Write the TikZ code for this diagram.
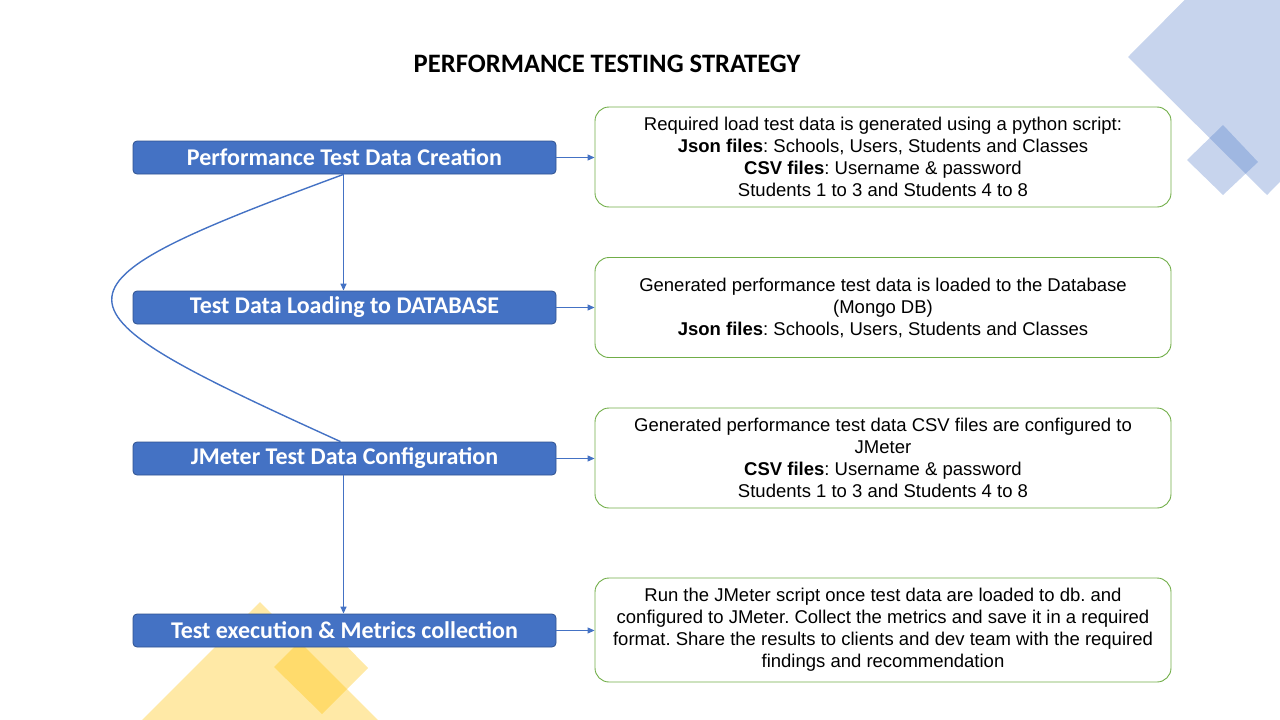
\documentclass[tikz,border=0pt]{standalone}
\usepackage{fontspec}
\setmainfont{Liberation Sans}
\newfontfamily\calibri{Carlito}
\usetikzlibrary{arrows.meta}
\frenchspacing

\definecolor{officeblue}{HTML}{4472C4}
\definecolor{darkblue}{HTML}{2F528F}
\definecolor{officegreen}{HTML}{70AD47}
\definecolor{gold}{HTML}{FFC000}

\tikzset{
  stage/.style={draw=darkblue,line width=.8pt,fill=officeblue,rounded corners=4pt,
    minimum width=423pt,minimum height=33pt,inner sep=0pt,text=white,
    font=\calibri\bfseries\fontsize{24}{28}\selectfont},
  note/.style={draw=officegreen,line width=.9pt,rounded corners=14pt,minimum width=576pt,
    minimum height=100pt,align=center,inner sep=0pt,
    font=\fontsize{18.5}{22}\selectfont},
  link/.style={officeblue,line width=1.4pt},
  tip/.style={-{Triangle[length=7pt,width=6pt]}}
}

\begin{document}
\begin{tikzpicture}[x=1pt,y=-1pt]
  \useasboundingbox (0,0) rectangle (1280,720);
  % corner shapes
  \fill[officeblue,opacity=.3]
    (1128,57) -- (1266,-82) -- (1405,56) -- (1267,195) -- cycle;
  \fill[officeblue,opacity=.3]
    (1187,160) -- (1223,125) -- (1258,162) -- (1223,195) -- cycle;
  \fill[gold,opacity=.35]
    (260,602) -- (378,720) -- (142,720) -- cycle;
  \fill[gold,opacity=.35]
    (274,667) -- (321,620) -- (368,668) -- (322,714) -- cycle;

  \node[font=\calibri\bfseries\fontsize{26.6}{30}\selectfont] (title)
    at (607,64) {PERFORMANCE TESTING STRATEGY};

  % stages
  \node[stage] (create) at (344.5,157.5) {Performance Test Data Creation};
  \node[stage] (load) at (344.5,307.5) {Test Data Loading to DATABASE};
  \node[stage] (config) at (344.5,458.5) {JMeter Test Data Configuration};
  \node[stage] (exec) at (344.5,630.5) {Test execution \& Metrics collection};

  % notes
  \node[note] (createnote) at (883,157) {Required load test data is generated using a python script:\\
    \textbf{Json files}: Schools, Users, Students and Classes\\
    \textbf{CSV files}: Username \& password\\
    Students 1 to 3 and Students 4 to 8};
  \node[note] (loadnote) at (883,307.5) {Generated performance test data is loaded to the Database\\
    (Mongo DB)\\
    \textbf{Json files}: Schools, Users, Students and Classes};
  \node[note] (confignote) at (883,458) {Generated performance test data CSV files are configured to\\
    JMeter\\
    \textbf{CSV files}: Username \& password\\
    Students 1 to 3 and Students 4 to 8};
  \node[note,minimum height=104pt] (execnote) at (883,630) {Run the JMeter script once test data are loaded to db. and\\
    configured to JMeter. Collect the metrics and save it in a required\\
    format. Share the results to clients and dev team with the required\\
    findings and recommendation};

  \foreach \a in {create,load,config,exec}
    \draw[link,line width=1pt,tip] (\a.east) -- (\a.east -| \a note.west);

  \draw[link,tip] ([xshift=-1pt]create.south) -- ([xshift=-1pt]load.north);
  \draw[link,tip] ([xshift=-1pt]config.south) -- ([xshift=-1pt]exec.north);
  \draw[link] ([xshift=-1pt]create.south)
    .. controls (30,290) and (40,305) .. ([xshift=-4pt]config.north);
\end{tikzpicture}
\end{document}
